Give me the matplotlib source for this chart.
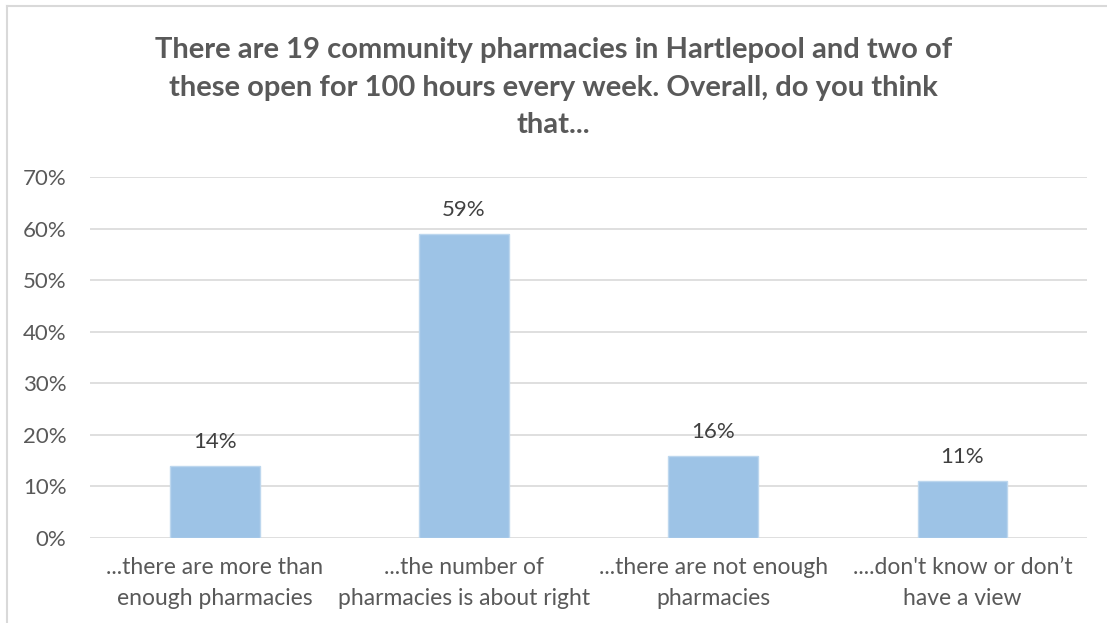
import matplotlib.pyplot as plt
from matplotlib.lines import Line2D
from matplotlib.ticker import PercentFormatter

# Antwoorden en percentages
categorieen = ["...there are more than\nenough pharmacies",
               "...the number of\npharmacies is about right",
               "...there are not enough\npharmacies",
               "....don't know or don\u2019t\nhave a view"]
percentages = [0.14, 0.59, 0.16, 0.11]
labels = ["14%", "59%", "16%", "11%"]

titel = ("There are 19 community pharmacies in Hartlepool and two of\n"
         "these open for 100 hours every week. Overall, do you think\n"
         "that...")


def draw():
    plt.rcParams['font.family'] = ['Lato', 'DejaVu Sans']

    fig = plt.figure(figsize=(11.07, 6.23), dpi=100)
    ax = fig.add_axes([0.0813, 0.1364, 0.9007, 0.5795])

    x = range(len(categorieen))
    bars = ax.bar(x, percentages, width=0.36, color='#9DC3E6',
                  edgecolor='#BDD7EE', linewidth=1, zorder=3)

    for bar, label in zip(bars, labels):
        ax.annotate(label, (bar.get_x() + bar.get_width() / 2, bar.get_height()),
                    xytext=(0, 14), textcoords='offset pixels',
                    ha='center', va='bottom', fontsize=16, color='#404040')

    ax.set_xlim(-0.5, len(categorieen) - 0.5)
    ax.set_ylim(0, 0.7)
    ax.set_yticks([i / 10 for i in range(8)])
    ax.yaxis.set_major_formatter(PercentFormatter(1.0, decimals=0))
    ax.set_xticks(list(x))
    ax.set_xticklabels(categorieen, fontsize=16.5, color='#595959', linespacing=1.55)
    ax.tick_params(axis='y', labelsize=16, labelcolor='#595959', length=0, pad=17)
    ax.tick_params(axis='x', length=0, pad=14)

    ax.grid(axis='y', color='#D9D9D9', linewidth=1.2, zorder=0)
    for kant in ax.spines.values():
        kant.set_visible(False)

    fig.text(0.5, 0.94, titel, ha='center', va='top', fontsize=21,
             fontweight='bold', color='#595959', linespacing=1.55)

    # Rand rond de grafiek (boven en links)
    fig.add_artist(Line2D([0.0063, 1.0], [0.9904, 0.9904], transform=fig.transFigure,
                          color='#D9D9D9', linewidth=1.5))
    fig.add_artist(Line2D([0.0063, 0.0063], [0.0, 0.9904], transform=fig.transFigure,
                          color='#D9D9D9', linewidth=1.5))

    fig.savefig('out.png', dpi=100)


if __name__ == "__main__":
    draw()
